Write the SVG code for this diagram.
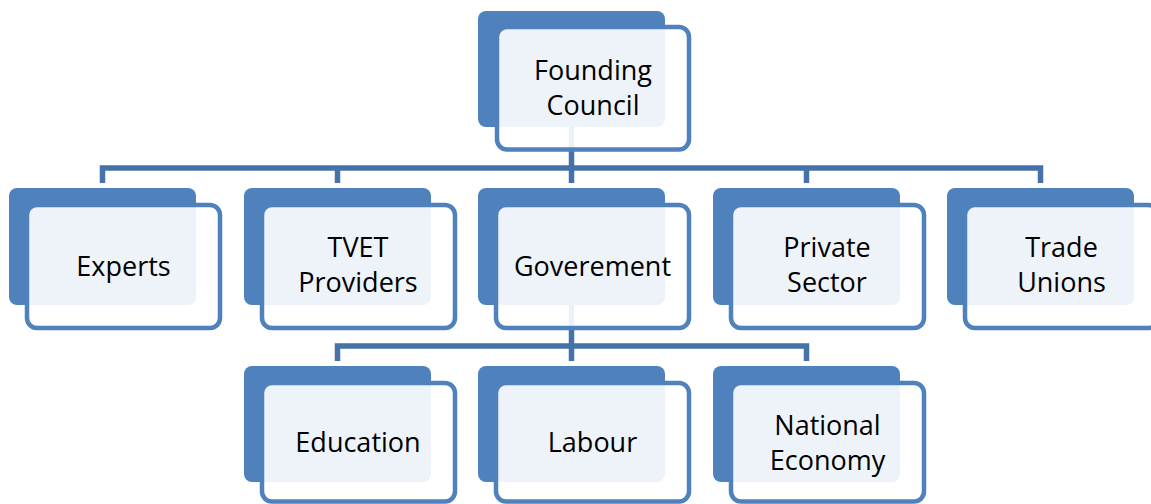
<svg xmlns="http://www.w3.org/2000/svg" width="1151" height="504" viewBox="0 0 1151 504">
<style>
.back{fill:#4f81bd}
.front{fill:#ffffff;fill-opacity:0.9;stroke:#4f81bd;stroke-width:4.5}
.conn{fill:none;stroke:#4472a9;stroke-width:5.5;stroke-linejoin:miter;stroke-linecap:butt}
.lbl{font-family:"Open Sans","Liberation Sans",sans-serif;font-size:27px;fill:#000000;text-anchor:middle;dominant-baseline:central}
</style>
<rect width="1151" height="504" fill="#ffffff"/>
<g id="connectors">
<path class="conn" d="M571.5,127 V183"/>
<path class="conn" d="M102.5,183 V168 H1040.5 V183"/>
<path class="conn" d="M337.5,168 V183"/>
<path class="conn" d="M806.5,168 V183"/>
<path class="conn" d="M571.5,305 V361"/>
<path class="conn" d="M337.5,361 V346 H806.5 V361"/>
</g>
<g id="founding-council">
<rect class="back" x="478" y="11" width="187" height="116" rx="8"/>
<rect class="front" x="497" y="27" width="192" height="122.5" rx="10"/>
<text class="lbl" x="593" y="69">Founding</text>
<text class="lbl" x="593" y="104">Council</text>
</g>
<g id="experts">
<rect class="back" x="9" y="188" width="187" height="117" rx="8"/>
<rect class="front" x="27" y="205" width="193" height="123" rx="10"/>
<text class="lbl" x="123.5" y="265.5">Experts</text>
</g>
<g id="tvet-providers">
<rect class="back" x="244" y="188" width="187" height="117" rx="8"/>
<rect class="front" x="262" y="205" width="193" height="123" rx="10"/>
<text class="lbl" x="358" y="246.5">TVET</text>
<text class="lbl" x="358" y="281.5">Providers</text>
</g>
<g id="goverement">
<rect class="back" x="478" y="188" width="187" height="117" rx="8"/>
<rect class="front" x="496" y="205" width="193" height="123" rx="10"/>
<text class="lbl" x="592.5" y="265.5">Goverement</text>
</g>
<g id="private-sector">
<rect class="back" x="713" y="188" width="187" height="117" rx="8"/>
<rect class="front" x="731" y="205" width="193" height="123" rx="10"/>
<text class="lbl" x="827" y="246.5">Private</text>
<text class="lbl" x="827" y="281.5">Sector</text>
</g>
<g id="trade-unions">
<rect class="back" x="947" y="188" width="187" height="117" rx="8"/>
<rect class="front" x="965" y="205" width="193" height="123" rx="10"/>
<text class="lbl" x="1061.5" y="246.5">Trade</text>
<text class="lbl" x="1061.5" y="281.5">Unions</text>
</g>
<g id="education">
<rect class="back" x="244" y="366" width="187" height="116" rx="8"/>
<rect class="front" x="262" y="383" width="193" height="118.5" rx="10"/>
<text class="lbl" x="358" y="441.5">Education</text>
</g>
<g id="labour">
<rect class="back" x="478" y="366" width="187" height="116" rx="8"/>
<rect class="front" x="496" y="383" width="193" height="118.5" rx="10"/>
<text class="lbl" x="592.5" y="441.5">Labour</text>
</g>
<g id="national-economy">
<rect class="back" x="713" y="366" width="187" height="116" rx="8"/>
<rect class="front" x="731" y="383" width="193" height="118.5" rx="10"/>
<text class="lbl" x="827.5" y="424.5">National</text>
<text class="lbl" x="827.5" y="459.5">Economy</text>
</g>
</svg>
